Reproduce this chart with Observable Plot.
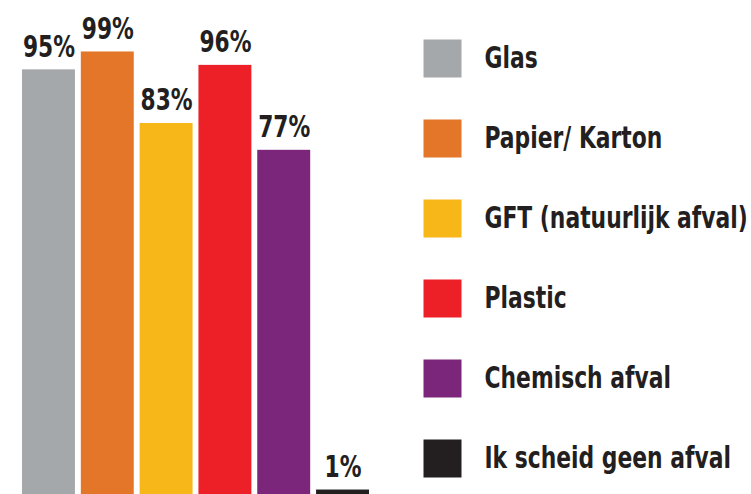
<!DOCTYPE html>
<html>
<head>
<meta charset="utf-8">
<script src="https://cdn.jsdelivr.net/npm/d3@7"></script>
<script src="https://cdn.jsdelivr.net/npm/@observablehq/plot@0.6"></script>
<style>
  html, body { margin: 0; padding: 0; background: #fff; }
  #wrap { position: relative; width: 751px; height: 494px; overflow: hidden; }
  #chart { position: absolute; left: 0; top: 0; }
  #legend { position: absolute; left: 404px; top: 0; }
</style>
</head>
<body>
<div id="wrap"><div id="chart"></div><div id="legend"></div></div>
<script>
const categories = ["Glas", "Papier/ Karton", "GFT (natuurlijk afval)", "Plastic", "Chemisch afval", "Ik scheid geen afval"];
const values = [95, 99, 83, 96, 77, 1];
const labels = ["95%", "99%", "83%", "96%", "77%", "1%"];
const colors = ["#a5a8ab", "#e37628", "#f7b718", "#ed1f27", "#7b267a", "#231f20"];

const data = categories.map((c, i) => ({name: c, value: values[i], label: labels[i]}));
const FONT = "'DejaVu Sans Condensed', 'DejaVu Sans', sans-serif";

// horizontally condense text glyphs around their anchor x
function condense(svg, cls, s) {
  svg.querySelectorAll(`g.${cls} text`).forEach(t => {
    const x = +(t.getAttribute("x") || 0);
    const prev = t.getAttribute("transform") || "";
    t.setAttribute("transform", `${prev} translate(${x},0) scale(${s},1) translate(${-x},0)`);
  });
}

const chart = Plot.plot({
  width: 400,
  height: 494,
  marginLeft: 22,
  marginRight: 31,
  marginTop: 47,
  marginBottom: 0,
  style: {fontFamily: FONT, background: "transparent", overflow: "visible"},
  x: {domain: categories, paddingInner: 0.1, paddingOuter: 0, axis: null, round: false},
  y: {domain: [0, 100], axis: null},
  color: {domain: categories, range: colors},
  marks: [
    Plot.barY(data, {x: "name", y: "value", fill: "name"}),
    Plot.text(data, {x: "name", y: "value", text: "label", lineAnchor: "bottom", dy: -13,
      fontSize: 31, fontWeight: "bold", fill: "#231f20", className: "vlabel"})
  ]
});
condense(chart, "vlabel", 0.78);
document.getElementById("chart").appendChild(chart);

const legend = Plot.plot({
  width: 347,
  height: 494,
  marginLeft: 0,
  marginRight: 0,
  marginTop: 58,
  marginBottom: 36,
  style: {fontFamily: FONT, background: "transparent", overflow: "visible"},
  x: {axis: null},
  y: {type: "point", domain: categories, padding: 0, axis: null},
  color: {domain: categories, range: colors},
  marks: [
    Plot.dot(data, {y: "name", frameAnchor: "left", dx: 38, symbol: "square", r: 38 / Math.sqrt(Math.PI), fill: "name", stroke: null}),
    Plot.text(data, {y: "name", text: "name", frameAnchor: "left", dx: 80, textAnchor: "start",
      fontSize: 30, fontWeight: "bold", fill: "#231f20", className: "ltext"})
  ]
});
condense(legend, "ltext", 0.81);
document.getElementById("legend").appendChild(legend);
</script>
</body>
</html>
